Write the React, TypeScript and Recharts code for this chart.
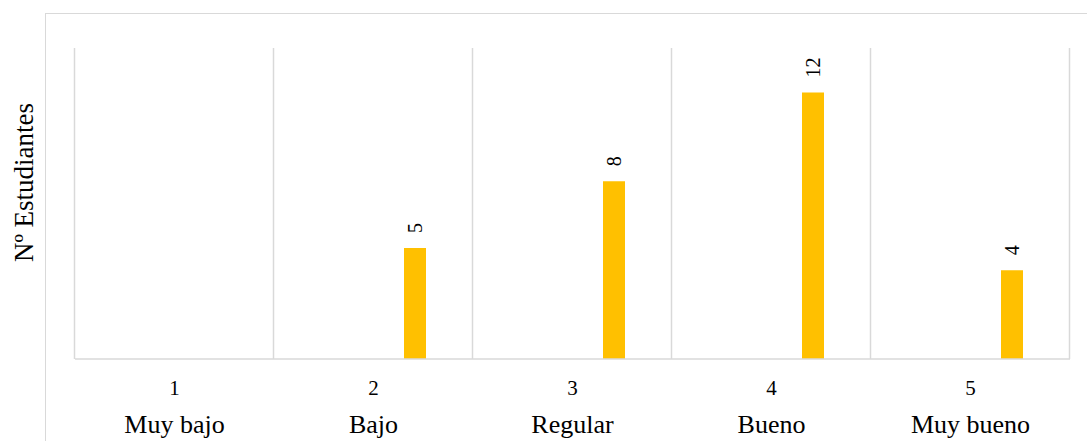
import { BarChart, Bar, XAxis, YAxis, CartesianGrid, LabelList, Label } from 'recharts';

const levels = ['1', '2', '3', '4', '5'];
const levelNames = ['Muy bajo', 'Bajo', 'Regular', 'Bueno', 'Muy bueno'];
const students = [null, 5, 8, 12, 4];

const chartData = levels.map((level, i) => ({
    level,
    name: levelNames[i],
    spacer: null,
    students: students[i],
}));

const FONT = '"Liberation Serif", "Times New Roman", serif';
const GRID = '#d9d9d9';

// vertical lines sit on the category boundaries, not on tick centres
// (nudged by half a pixel so the outer ones are not dropped at the plot edge)
const boundaryLines = ({ offset }: any) =>
    Array.from({ length: levels.length + 1 }, (_, i) => Math.round(offset.left + (i * offset.width) / levels.length) - 0.5);

function LevelTick(props: any) {
    const { x, y, payload, index } = props;
    return (
        <g style={{ fontFamily: FONT }}>
            <text x={x} y={y + 36} textAnchor="middle" fontSize={21} fill="#000">
                {payload.value}
            </text>
            <text x={x} y={y + 74} textAnchor="middle" fontSize={26} fill="#000">
                {levelNames[index]}
            </text>
        </g>
    );
}

function ValueLabel(props: any) {
    const { x, y, width, value } = props;
    if (value === null || value === undefined) return null;
    const cx = x + width / 2 + 7;
    const cy = y - 15;
    return (
        <text x={cx} y={cy} transform={`rotate(-90, ${cx}, ${cy})`} textAnchor="start" style={{ fontFamily: FONT }} fontSize={20} fill="#000">
            {value}
        </text>
    );
}

function AxisTitle(props: any) {
    const { viewBox } = props;
    const cx = viewBox.x + 33;
    const cy = viewBox.y + viewBox.height / 2 - 21;
    return (
        <text x={cx} y={cy} transform={`rotate(-90, ${cx}, ${cy})`} textAnchor="middle" style={{ fontFamily: FONT }} fontSize={27} fill="#000">
            Nº Estudiantes
        </text>
    );
}

export default function App() {
    return (
        <div style={{ position: 'absolute', left: 0, top: 0, width: 1087, height: 441, overflow: 'hidden', background: '#fff' }}>
            <div style={{ position: 'absolute', left: 45, top: 13, width: 1200, height: 600, border: `1px solid ${GRID}` }} />
            <div style={{ position: 'absolute', left: 0, top: 0 }}>
                <BarChart
                    width={1087}
                    height={441}
                    data={chartData}
                    margin={{ top: 48, right: 17, bottom: 0, left: 0 }}
                    barGap={60}
                    barSize={22}
                >
                    <CartesianGrid horizontal={false} verticalCoordinatesGenerator={boundaryLines} stroke={GRID} strokeWidth={1.5} />
                    <XAxis
                        dataKey="level"
                        height={82}
                        tickLine={false}
                        tickSize={0}
                        tickMargin={0}
                        axisLine={{ stroke: GRID, strokeWidth: 1.5 }}
                        tick={<LevelTick />}
                        interval={0}
                    />
                    <YAxis width={75} domain={[0, 14]} tick={false} tickLine={false} axisLine={false}>
                        <Label content={<AxisTitle />} />
                    </YAxis>
                    <Bar dataKey="spacer" fill="transparent" isAnimationActive={false} />
                    <Bar dataKey="students" fill="#FFC000" isAnimationActive={false}>
                        <LabelList dataKey="students" content={<ValueLabel />} />
                    </Bar>
                </BarChart>
            </div>
        </div>
    );
}
